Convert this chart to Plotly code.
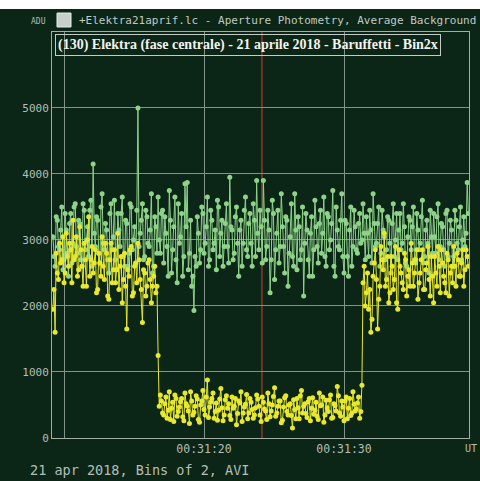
import plotly.graph_objects as go

# ---- data ----
t_start = 9.2      # seconds after 00:31:00 UT
dt = 0.16          # step between frames of each list; lists "_b" sit halfway between

green_adu = [
    3050, 2600, 3300, 2850, 3500, 2700, 3150, 2450, 3400, 2950,
    3550, 2800, 3250, 2600, 3450, 3000, 2750, 3600, 4150, 2900,
    3300, 2650, 3700, 2850, 3150, 2500, 3550, 3050, 2700, 3400,
    2900, 3650, 2600, 3250, 2800, 3500, 3000, 2650, 5000, 3100,
    3550, 2750, 3350, 2900, 3700, 2600, 3200, 3650, 2800, 3450,
    3350, 2900, 3750, 2500, 3200, 2700, 3550, 3050, 2450, 3850,
    3870, 2800, 2300, 1930, 2600, 3100, 2850, 3400, 2950, 3650,
    2700, 3300, 2950, 2550, 3500, 3100, 2600, 3250, 2900, 3950,
    3150, 2800, 3500, 2450, 3300, 2950, 3650, 2750, 3400, 2600,
    3300, 3900, 2850, 3200, 3900, 2700, 3450, 2200, 3600, 2400,
    3100, 2650, 3700, 2900, 3350, 2300, 3050, 2750, 3700, 2550,
    3200, 2850, 2150, 3400, 2700, 3100, 2450, 3600, 2900, 3250,
    2800, 3650, 2600, 3350, 3000, 3750, 2450, 3150, 2850, 3700,
    2500, 3250, 2450, 3500, 2900, 3200, 2800, 3400, 3000, 3100,
    3350, 2750, 3150, 3700, 2900, 3250, 2600, 3450, 3050, 2850,
    3300, 2500, 3550, 3000, 2700, 3400, 2950, 3200, 2600, 3350,
    2850, 3500, 2650, 3150, 2950, 3600, 2750, 3300, 2500, 3050,
    3400, 2800, 3550, 2900, 3200, 2600, 3450, 2950, 3150, 2750,
    3300, 2850, 3500, 3000, 2900, 3870,
]
green_adu_b = [
    2750, 3350, 2900, 3150, 2550, 3400, 2800, 3250, 2650, 3500,
    2900, 3300, 2700, 3550, 2850, 3200, 3450, 2600, 3100, 3350,
    2800, 3500, 2950, 3250, 2700, 3400, 2850, 3600, 2550, 3150,
    3400, 2750, 3300, 2600, 3550, 2850, 3200, 3450, 2900, 3300,
    2700, 3450, 2950, 3150, 2500, 3350, 2800, 3000, 3400, 2650,
    3100, 2450, 3300, 2850, 3650, 2350, 2950, 3400, 2750, 3200,
    2550, 3300, 2450, 2750, 3350, 2650, 3500, 2800, 3200, 2600,
    3450, 2850, 3150, 3600, 2750, 3300, 2900, 3550, 2650, 3200,
    2700, 3350, 2950, 3150, 2600, 3450, 2850, 3250, 2950, 3550,
    2750, 3100, 3450, 2650, 3300, 2900, 3150, 2700, 3400, 2850,
    3450, 2900, 3200, 2500, 3300, 2800, 3550, 2600, 3150, 3350,
    2700, 3500, 2950, 3150, 2450, 3350, 2850, 3200, 2650, 3450,
    3100, 2750, 3400, 2850, 3250, 2600, 3500, 2900, 3300, 2750,
    3300, 2750, 3150, 2600, 3450, 2850, 3250, 2950, 3550, 2700,
    3100, 3450, 2650, 3250, 2950, 3500, 2800, 3150, 2700, 3350,
    2950, 3250, 2750, 3400, 3150, 2850, 3550, 2650, 3050, 3300,
    3200, 2700, 3400, 2850, 3350, 2650, 3150, 2950, 3450, 2800,
    3050, 3350, 2700, 3250, 2850, 3400, 2750, 3300, 2600, 3450,
    2950, 3200, 2700, 3350, 3100, 3400,
]

yellow_adu = [
    1950, 1600, 2500, 2950, 2700, 2350, 3100, 2600, 2850, 3300,
    2750, 2450, 3200, 2600, 2950, 2300, 3350, 2700, 2500, 2850,
    2250, 2650, 3050, 2400, 2800, 2100, 2950, 2550, 2350, 3100,
    2600, 2050, 2800, 1650, 2450, 2900, 2200, 2650, 2950, 2400,
    1750, 2500, 2300, 2700, 2050, 2450, 2200,
    1250,
    650, 380, 520, 300, 700, 450, 250, 600, 400, 550,
    320, 680, 480, 220, 560, 390, 640, 280, 500, 720,
    350, 880, 470, 600, 300, 530, 420, 750, 260, 580,
    450, 340, 620, 480, 200, 560, 700, 380, 510, 290,
    600, 430, 350, 650, 480, 250, 540, 410, 680, 320,
    500, 760, 380, 560, 230, 470, 640, 350, 520, 150,
    430, 600, 290, 720, 480, 370, 550, 260, 610, 420,
    330, 680, 500, 240, 570, 400, 650, 310, 490, 780,
    380, 560, 260, 620, 450, 340, 700, 410, 530, 300,
    800,
    2600, 2200, 1950, 1600, 2450, 2850, 1650, 2300, 2700, 3100,
    2400, 2050, 2750, 2250, 2900, 1950, 2600, 2350, 2800, 2150,
    2550, 2950, 2300, 2700, 2100, 2500, 2850, 2250, 2650, 2400,
    2750, 2050, 2500, 2900, 2200, 2650, 2350, 2800, 2150, 2600,
    2900, 2300, 2700, 2450, 2850, 2550, 2750,
]
yellow_adu_b = [
    2250, 2800, 2400, 2650, 3050, 2500, 2750, 2950, 2350, 2700,
    3050, 2550, 2850, 2300, 2700, 3000, 2450, 2900, 2650, 2200,
    2800, 2450, 2600, 2950, 2150, 2700, 2350, 2850, 2550, 2250,
    2750, 2400, 2300, 2550, 2850, 2150, 2600, 2350, 2700, 2250,
    2550, 2150, 2650, 2400, 2300, 2600, 2300,
    480, 560, 350, 620, 420, 280, 540, 650, 330, 470,
    600, 260, 520, 410, 700, 350, 480, 590, 240, 560,
    430, 620, 310, 540, 680, 400, 270, 590, 460, 350,
    640, 520, 280, 450, 600, 370, 530, 250, 470, 660,
    380, 540, 300, 460, 590, 350, 620, 440, 280, 520,
    410, 630, 330, 480, 560, 270, 610, 400, 500, 340,
    580, 290, 460, 640, 380, 520, 310, 600, 450, 360,
    540, 280, 490, 620, 350, 460, 580, 300, 520, 410,
    640, 330, 470, 560, 290, 600, 380, 510, 440, 620,
    400,
    2350,
    2000, 2500, 2250, 1800, 2650, 2400, 2100, 2900, 2550, 2300,
    2750, 2200, 2600, 2400, 2050, 2850, 2500, 2250, 2700, 2450,
    2300, 2650, 2500, 2850, 2350, 2700, 2250, 2550, 2900, 2150,
    2450, 2750, 2300, 2600, 2850, 2450, 2200, 2700, 2500, 2350,
    2600, 2800, 2450, 2650, 2300, 2850, 2600,
]


def merge(a, b):
    xs, ys = [], []
    for i in range(len(a)):
        xs.append(t_start + dt * i)
        ys.append(a[i])
        if i < len(b):
            xs.append(t_start + dt * i + dt / 2)
            ys.append(b[i])
    return xs, ys


g_t, g_v = merge(green_adu, green_adu_b)
y_t, y_v = merge(yellow_adu, yellow_adu_b)

y_ticks = [0, 1000, 2000, 3000, 4000, 5000]
x_ticks = [10, 20, 30]
x_tick_text = ["", "00:31:20", "00:31:30"]
marker_time = 24.14

title_text = "(130) Elektra (fase centrale) - 21 aprile 2018 - Baruffetti - Bin2x"
header_text = "+Elektra21aprif.lc - Aperture Photometry, Average Background"
footer_text = "21 apr 2018, Bins of 2, AVI"

# ---- layout geometry ----
W, H = 480, 481
L, R, T, B = 52, 11, 32, 43
PW, PH = W - L - R, H - T - B
def px(x):
    return (x - L) / PW
def py(y):
    return (H - B - y) / PH

BG = "#0b2616"
GRID = "#7f9387"
TXT = "#b4beb7"
GREEN = "#8fd38a"
YELLOW = "#e8e82e"

fig = go.Figure()
fig.add_trace(go.Scatter(
    x=g_t, y=g_v, mode="lines+markers",
    line=dict(color=GREEN, width=1),
    marker=dict(color=GREEN, size=5),
    showlegend=False, hoverinfo="skip"))
fig.add_trace(go.Scatter(
    x=y_t, y=y_v, mode="lines+markers",
    line=dict(color=YELLOW, width=1),
    marker=dict(color=YELLOW, size=5),
    showlegend=False, hoverinfo="skip"))

fig.add_shape(type="line", xref="x", yref="paper", x0=marker_time, x1=marker_time,
              y0=0, y1=1, line=dict(color="#8a3a2a", width=1.5), layer="below")

# white strip at top of photo
fig.add_shape(type="rect", xref="paper", yref="paper",
              x0=px(-5), x1=px(490), y0=py(9), y1=py(-5),
              fillcolor="white", line=dict(width=0), layer="above")
# window icon
fig.add_shape(type="rect", xref="paper", yref="paper",
              x0=px(57), x1=px(71), y0=py(27), y1=py(13),
              fillcolor="#c9d0cc", line=dict(color="#e8ece9", width=1), layer="above")

fig.update_layout(
    width=W, height=H,
    margin=dict(l=L, r=R, t=T, b=B),
    paper_bgcolor=BG, plot_bgcolor=BG,
    font=dict(family="DejaVu Sans Mono", color=TXT, size=10),
    xaxis=dict(range=[9.14, 38.93], tickvals=x_ticks, ticktext=x_tick_text,
               showgrid=True, gridcolor=GRID, gridwidth=1, zeroline=False,
               showline=True, linecolor="#a3aea7", linewidth=1, mirror=True,
               ticks="", tickfont=dict(family="DejaVu Sans Mono", size=11.5, color=TXT)),
    yaxis=dict(range=[0, 6150], tickvals=y_ticks,
               showgrid=True, gridcolor=GRID, gridwidth=1, zeroline=False,
               showline=True, linecolor="#a3aea7", linewidth=1, mirror=True,
               ticks="", tickfont=dict(family="DejaVu Sans Mono", size=11, color=TXT)),
    annotations=[
        dict(xref="paper", yref="paper", x=px(55), y=py(34), xanchor="left", yanchor="top",
             text="<b>" + title_text + "</b>", showarrow=False,
             font=dict(family="Liberation Serif", size=14, color="#f2f2ee"),
             bordercolor="#c5ccc8", borderwidth=1, borderpad=2),
        dict(xref="paper", yref="paper", x=px(48), y=py(21), xanchor="right", yanchor="middle",
             text="ADU", showarrow=False,
             font=dict(family="DejaVu Sans Mono", size=8, color=TXT)),
        dict(xref="paper", yref="paper", x=px(77), y=py(20), xanchor="left", yanchor="middle",
             text=header_text, showarrow=False,
             font=dict(family="DejaVu Sans Mono", size=11, color="#c0c8c3")),
        dict(xref="paper", yref="paper", x=px(28), y=py(470), xanchor="left", yanchor="middle",
             text=footer_text, showarrow=False,
             font=dict(family="DejaVu Sans Mono", size=13.5, color=TXT)),
        dict(xref="paper", yref="paper", x=px(479), y=py(448), xanchor="right", yanchor="middle",
             text="UT", showarrow=False,
             font=dict(family="DejaVu Sans Mono", size=10, color=TXT)),
    ],
)

fig.write_html("out.html")
